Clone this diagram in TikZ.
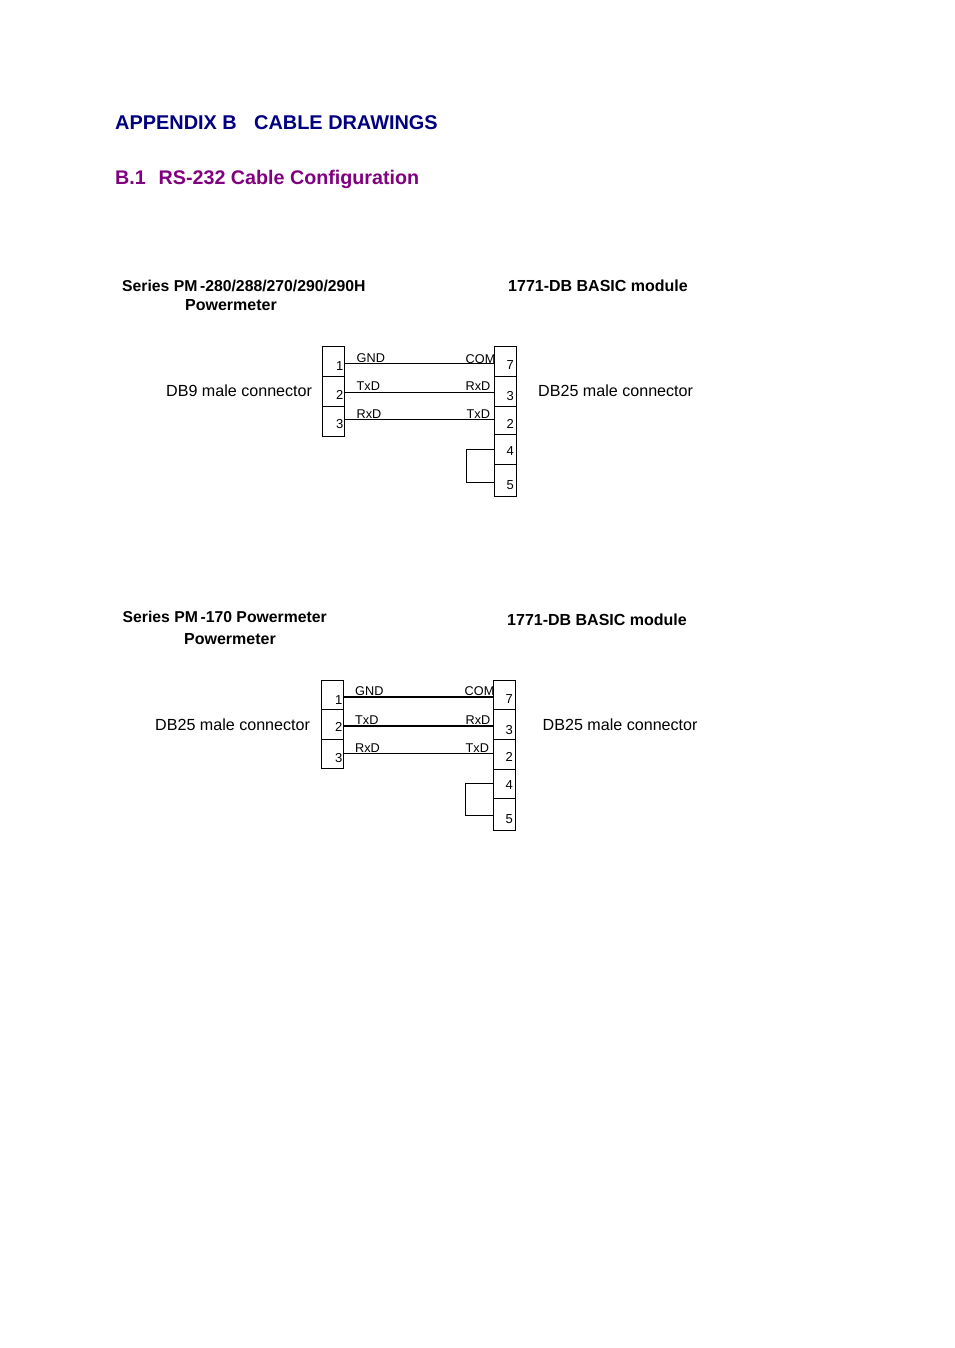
\documentclass[tikz,border=0pt]{standalone}
\usepackage{fontspec}
\setmainfont{Liberation Sans}
\usepackage{tikz}
\usetikzlibrary{positioning}
\definecolor{appblue}{HTML}{000080}
\definecolor{apppurple}{HTML}{800080}
\tikzset{
  txt/.style={inner sep=0pt,anchor=base west},
  chapter/.style={txt,font=\fontsize{19.9}{24}\selectfont\bfseries,text=appblue},
  section/.style={txt,font=\fontsize{19.7}{24}\selectfont\bfseries,text=apppurple},
  head/.style={txt,font=\fontsize{16}{19}\selectfont\bfseries},
  headb/.style={txt,font=\fontsize{15.75}{19}\selectfont\bfseries},
  conn/.style={txt,font=\fontsize{16.1}{19}\selectfont},
  sig/.style={txt,font=\fontsize{12.7}{15}\selectfont},
  pinnum/.style={inner sep=0pt,anchor=base east,font=\fontsize{13}{15}\selectfont},
  pinbox/.style={draw,rectangle,inner sep=0pt,minimum width=22pt,line width=1pt},
  wire/.style={line width=1pt},
  heavy/.style={line width=1.8pt}
}
\begin{document}
\begin{tikzpicture}[x=1pt,y=-1pt]
\useasboundingbox (0,0) rectangle (954,1348);
\node[chapter] (title) at (115,129.5) {APPENDIX B};
\node[chapter] (titleb) at (254,129.5) {CABLE DRAWINGS};
\node[section] (sect) at (115,184.5) {B.1};
\node[section] (sectb) at (158.5,184.5) {RS-232 Cable Configuration};
% first cable
\node[headb] (srcA) at (122,291) {Series PM\,-280/288/270/290/290H};
\node[head] (srcAb) at (185,310) {Powermeter};
\node[head] (dstA) at (508,291) {1771-DB BASIC module};
\node[conn] (cnA) at (166,396) {DB9 male connector};
\node[conn] (cnAb) at (538,396) {DB25 male connector};
\foreach \nm/\n/\ya/\yb/\yt in {la1/1/346.5/376/370,la2/2/376/406/399,la3/3/406/436/428}{
  \node[pinbox,minimum height={(\yb-\ya)*1pt}] (\nm) at (333,{(\ya+\yb)/2}) {};
  \node[pinnum] at (343.5,\yt) {\n};
}
\foreach \nm/\n/\ya/\yb/\yt in {ra7/7/346.5/376/369,ra3/3/376/406/400,ra2/2/406/434/428,ra4/4/434/464/455,ra5/5/464/496/489}{
  \node[pinbox,minimum height={(\yb-\ya)*1pt}] (\nm) at (505,{(\ya+\yb)/2}) {};
  \node[pinnum] at (514,\yt) {\n};
}
\coordinate (wa1) at (0,363);
\coordinate (wa2) at (0,392);
\coordinate (wa3) at (0,419);
\coordinate (wa4) at (0,449);
\coordinate (wa5) at (0,482);
\draw[wire] (la1.east |- wa1) -- (ra7.west |- wa1);
\draw[wire] (la2.east |- wa2) -- (ra3.west |- wa2);
\draw[wire] (la3.east |- wa3) -- (ra2.west |- wa3);
\draw[wire] (ra4.west |- wa4) -- ++(-27.5,0) |- (ra5.west |- wa5);
\node[sig] at (356.5,362) {GND};
\node[sig] at (465.5,363) {COM};
\node[sig] at (356.5,390) {TxD};
\node[sig] at (465.5,390) {RxD};
\node[sig] at (356.5,418) {RxD};
\node[sig] at (466.5,418) {TxD};
% second cable
\node[headb] (srcB) at (122.5,622) {Series PM\,-170 Powermeter};
\node[head] (srcBb) at (184,644) {Powermeter};
\node[head] (dstB) at (507,625) {1771-DB BASIC module};
\node[conn] (cnB) at (155,730) {DB25 male connector};
\node[conn] (cnBb) at (542.5,730) {DB25 male connector};
\foreach \nm/\n/\ya/\yb/\yt in {lb1/1/680.5/709/704,lb2/2/709/739/731,lb3/3/739/768/762}{
  \node[pinbox,minimum height={(\yb-\ya)*1pt}] (\nm) at (332,{(\ya+\yb)/2}) {};
  \node[pinnum] at (342.5,\yt) {\n};
}
\foreach \nm/\n/\ya/\yb/\yt in {rb7/7/680/709/703,rb3/3/709/739/734,rb2/2/739/769/761,rb4/4/769/798/789,rb5/5/798/830/823}{
  \node[pinbox,minimum height={(\yb-\ya)*1pt}] (\nm) at (504,{(\ya+\yb)/2}) {};
  \node[pinnum] at (513,\yt) {\n};
}
\coordinate (wb1) at (0,697);
\coordinate (wb2) at (0,726);
\coordinate (wb3) at (0,753);
\coordinate (wb4) at (0,783);
\coordinate (wb5) at (0,815.5);
\draw[heavy] (lb1.east |- wb1) -- (rb7.west |- wb1);
\draw[heavy] (lb2.east |- wb2) -- (rb3.west |- wb2);
\draw[wire] (lb3.east |- wb3) -- (rb2.west |- wb3);
\draw[wire] (rb4.west |- wb4) -- ++(-27.5,0) |- (rb5.west |- wb5);
\node[sig] at (355,695) {GND};
\node[sig] at (464.5,695) {COM};
\node[sig] at (355,724) {TxD};
\node[sig] at (465.5,724) {RxD};
\node[sig] at (355,752) {RxD};
\node[sig] at (465.5,752) {TxD};
\end{tikzpicture}
\end{document}
